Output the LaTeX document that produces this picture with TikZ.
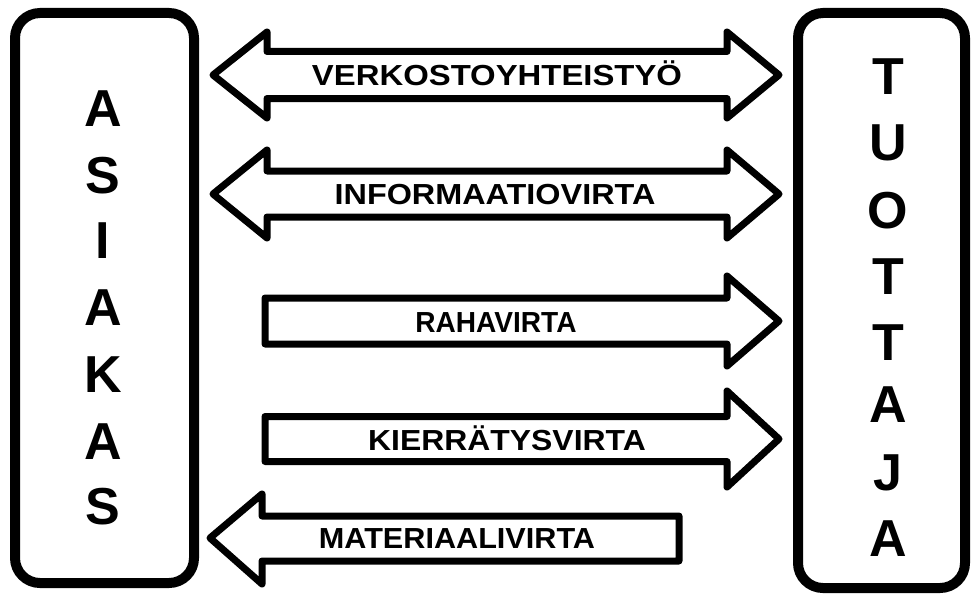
\documentclass[tikz,border=0pt]{standalone}
\usepackage{fontspec}
\setmainfont{Liberation Sans}
\begin{document}
\begin{tikzpicture}[x=1pt,y=-1pt,
  party/.style={draw, line width=10pt, rounded corners=25pt, inner sep=0pt},
  flow/.style={draw, line width=7pt, line join=round, fill=white},
  flowlabel/.style={font=\bfseries\fontsize{29}{29}\selectfont, inner sep=0pt,
    text height=21pt, text depth=0pt, xscale=1.1},
  letter/.style={font=\bfseries\fontsize{52}{52}\selectfont, inner sep=0pt,
    text height=37pt, text depth=0pt}]
\useasboundingbox (0,0) rectangle (972,594);

% the two parties
\node[party, minimum width=179pt, minimum height=570pt] (asiakas) at (104.5,298) {};
\node[party, minimum width=167pt, minimum height=575pt] (tuottaja) at (881.5,300.5) {};

\foreach \ch/\yy [count=\i] in {A/108,S/175,I/240,A/307,K/374,A/441,S/506}
  \node[letter] (asiakas-\i) at (103,\yy) {\ch};
\foreach \ch/\yy [count=\i] in {T/76,U/142,O/210,T/276,T/342,A/404,J/472,A/538}
  \node[letter] (tuottaja-\i) at (888,\yy) {\ch};

% two-way flows
\draw[flow] (213,75) -- (267,32) -- (267,51.5) -- (727,51.5) -- (727,32) -- (779,75)
  -- (727,118) -- (727,98.5) -- (267,98.5) -- (267,118) -- cycle;
\node[flowlabel, xscale=1.03] (verkosto) at (497,75) {VERKOSTOYHTEISTYÖ};

\draw[flow] (213,194) -- (267,150) -- (267,171) -- (727,171) -- (727,150) -- (779,194)
  -- (727,238) -- (727,217) -- (267,217) -- (267,238) -- cycle;
\node[flowlabel, xscale=1.015] (info) at (495,194) {INFORMAATIOVIRTA};

% one-way flows towards the producer
\draw[flow] (265,298) -- (727,298) -- (727,276) -- (779,321) -- (727,366)
  -- (727,344) -- (265,344) -- cycle;
\node[flowlabel, xscale=0.88] (raha) at (496,322) {RAHAVIRTA};

\draw[flow] (265,416.5) -- (727,416.5) -- (727,391) -- (779,439) -- (727,487)
  -- (727,461.5) -- (265,461.5) -- cycle;
\node[flowlabel] (kierratys) at (507,440) {KIERRÄTYSVIRTA};

% one-way flow towards the customer
\draw[flow] (210,538) -- (262,494) -- (262,516) -- (679,516) -- (679,561)
  -- (262,561) -- (262,584) -- cycle;
\node[flowlabel, xscale=0.96] (materiaali) at (457,538) {MATERIAALIVIRTA};
\end{tikzpicture}
\end{document}
